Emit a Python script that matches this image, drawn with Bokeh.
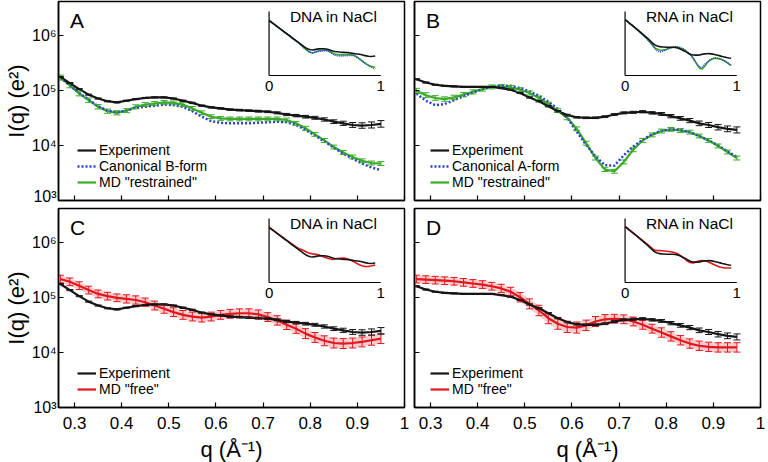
import numpy as np
from bokeh.plotting import figure
from bokeh.models import (ColumnDataSource, Whisker, TeeHead, Legend, LegendItem, Label,
                          FixedTicker, Range1d, LogScale, LinearScale)
from bokeh.layouts import column, row
from bokeh.embed import file_html
from bokeh.resources import INLINE
from bokeh.core.properties import value

FONT = "Liberation Sans"

# ---------------- data (log10 of I(q) in e^2) ----------------
q = [0.27, 0.29, 0.31, 0.33, 0.35, 0.37, 0.39, 0.41, 0.43, 0.45, 0.47, 0.49,
     0.51, 0.53, 0.55, 0.57, 0.59, 0.61, 0.63, 0.65, 0.67, 0.69, 0.71, 0.73,
     0.75, 0.77, 0.79, 0.81, 0.83, 0.85, 0.87, 0.89, 0.91, 0.93, 0.95]

dna_exp = [5.24, 5.13, 5.02, 4.92, 4.85, 4.80, 4.78, 4.81, 4.84, 4.86, 4.87, 4.87,
           4.85, 4.81, 4.77, 4.72, 4.69, 4.67, 4.65, 4.64, 4.63, 4.62, 4.61, 4.59,
           4.56, 4.54, 4.52, 4.50, 4.47, 4.43, 4.40, 4.37, 4.36, 4.37, 4.39]
dna_bform = [5.23, 5.09, 4.95, 4.83, 4.71, 4.63, 4.60, 4.63, 4.68, 4.70, 4.72, 4.74,
             4.73, 4.70, 4.62, 4.52, 4.44, 4.41, 4.40, 4.40, 4.40, 4.41, 4.42, 4.43,
             4.42, 4.37, 4.28, 4.18, 4.07, 3.96, 3.85, 3.76, 3.67, 3.60, 3.55]
dna_restr = [5.23, 5.09, 4.94, 4.82, 4.70, 4.62, 4.59, 4.63, 4.70, 4.74, 4.76, 4.78,
             4.77, 4.74, 4.67, 4.59, 4.52, 4.49, 4.48, 4.48, 4.48, 4.48, 4.48, 4.48,
             4.46, 4.40, 4.31, 4.20, 4.09, 3.97, 3.87, 3.79, 3.72, 3.68, 3.67]
dna_free = [5.33, 5.28, 5.21, 5.13, 5.06, 5.02, 4.99, 4.97, 4.95, 4.91, 4.85, 4.79,
            4.73, 4.68, 4.65, 4.63, 4.65, 4.68, 4.70, 4.71, 4.71, 4.69, 4.64, 4.58,
            4.50, 4.43, 4.34, 4.27, 4.21, 4.17, 4.16, 4.17, 4.19, 4.22, 4.25]

rna_exp = [5.20, 5.14, 5.10, 5.08, 5.07, 5.06, 5.06, 5.06, 5.06, 5.04, 5.01, 4.95,
           4.87, 4.80, 4.71, 4.62, 4.55, 4.51, 4.50, 4.50, 4.52, 4.56, 4.59, 4.60,
           4.61, 4.59, 4.57, 4.53, 4.49, 4.45, 4.40, 4.37, 4.33, 4.30, 4.28]
rna_aform = [4.94, 4.81, 4.73, 4.75, 4.82, 4.89, 4.96, 5.02, 5.06, 5.08, 5.08, 5.04,
             4.98, 4.90, 4.79, 4.66, 4.50, 4.25, 4.01, 3.80, 3.64, 3.63, 3.82, 3.98,
             4.10, 4.20, 4.27, 4.29, 4.28, 4.24, 4.17, 4.09, 4.00, 3.89, 3.79]
rna_restr = [4.99, 4.91, 4.86, 4.84, 4.87, 4.92, 4.97, 5.02, 5.06, 5.07, 5.05, 5.01,
             4.95, 4.86, 4.75, 4.63, 4.50, 4.30, 4.04, 3.77, 3.56, 3.53, 3.70, 3.92,
             4.09, 4.19, 4.26, 4.29, 4.27, 4.24, 4.17, 4.09, 3.99, 3.88, 3.77]
rna_free = [5.33, 5.32, 5.31, 5.30, 5.29, 5.27, 5.25, 5.23, 5.20, 5.16, 5.10, 5.00,
            4.88, 4.76, 4.62, 4.52, 4.46, 4.45, 4.49, 4.56, 4.60, 4.61, 4.60, 4.56,
            4.50, 4.43, 4.36, 4.29, 4.22, 4.16, 4.12, 4.10, 4.09, 4.09, 4.09]

# error-bar half widths (decades)
dna_exp_err = [0.010, 0.010, 0.010, 0.010, 0.010, 0.010, 0.010, 0.010, 0.010, 0.010, 0.010, 0.010,
               0.010, 0.012, 0.012, 0.012, 0.012, 0.012, 0.014, 0.014, 0.014, 0.016, 0.016, 0.018,
               0.020, 0.022, 0.024, 0.026, 0.030, 0.034, 0.038, 0.044, 0.050, 0.055, 0.060]
rna_exp_err = [0.010, 0.010, 0.010, 0.010, 0.010, 0.010, 0.010, 0.010, 0.010, 0.010, 0.010, 0.010,
               0.012, 0.012, 0.012, 0.012, 0.014, 0.014, 0.014, 0.014, 0.016, 0.016, 0.018, 0.018,
               0.020, 0.022, 0.026, 0.030, 0.034, 0.038, 0.042, 0.046, 0.050, 0.052, 0.055]
restr_err = [0.045, 0.045, 0.042, 0.040, 0.040, 0.038, 0.038, 0.036, 0.036, 0.035, 0.035, 0.035,
             0.035, 0.035, 0.035, 0.035, 0.035, 0.035, 0.035, 0.035, 0.035, 0.035, 0.035, 0.035,
             0.035, 0.035, 0.035, 0.035, 0.035, 0.035, 0.035, 0.035, 0.035, 0.035, 0.035]
dna_free_err = [0.070, 0.070, 0.070, 0.070, 0.070, 0.070, 0.070, 0.075, 0.075, 0.075, 0.080, 0.080,
                0.080, 0.080, 0.080, 0.080, 0.080, 0.080, 0.080, 0.080, 0.080, 0.080, 0.080, 0.085,
                0.085, 0.085, 0.090, 0.090, 0.090, 0.090, 0.090, 0.090, 0.090, 0.090, 0.090]
rna_free_err = [0.070, 0.070, 0.070, 0.070, 0.070, 0.070, 0.070, 0.070, 0.070, 0.075, 0.080, 0.085,
                0.090, 0.095, 0.100, 0.100, 0.100, 0.100, 0.095, 0.090, 0.085, 0.080, 0.080, 0.080,
                0.080, 0.080, 0.085, 0.085, 0.085, 0.085, 0.085, 0.085, 0.085, 0.085, 0.085]

# low-q part shown only in the insets
q_low = [0.0, 0.05, 0.10, 0.15, 0.20, 0.25]
dna_exp_low = [6.72, 6.45, 6.17, 5.90, 5.62, 5.35]
dna_model_low = [6.72, 6.45, 6.17, 5.89, 5.61, 5.33]
dna_free_low = [6.74, 6.47, 6.20, 5.93, 5.66, 5.41]
rna_exp_low = [7.00, 6.68, 6.36, 6.03, 5.70, 5.32]
rna_model_low = [7.00, 6.68, 6.35, 6.00, 5.62, 5.16]
rna_free_low = [7.02, 6.70, 6.39, 6.07, 5.75, 5.42]

x_ticks = [0.3, 0.4, 0.5, 0.6, 0.7, 0.8, 0.9, 1.0]
x_tick_labels = ["0.3", "0.4", "0.5", "0.6", "0.7", "0.8", "0.9", "1"]
y_ticks = [1e3, 1e4, 1e5, 1e6]
y_tick_labels = ["10\u00b3", "10\u2074", "10\u2075", "10\u2076"]

BLACK = "#151515"
GREEN = "#3aaa28"
BLUE = "#2b3fd8"
RED = "#e3161d"

# ---------------- layout constants ----------------
FW, FH = 346, 199
X_START, X_END = 0.266, 1.0
Y_START, Y_END = 1e3, 10 ** 6.61
IX0, IX1 = 213 / 350, 326 / 350        # inset q=0 / q=1 as fraction of frame width
IYT, IYB = 10 / 199, 74 / 199          # inset top / bottom as fraction of frame height (from top)
INSET_X_TITLE = 0.58
LEG_PITCH = 16


def panel(letter, series, title, ins_lo, ins_hi, xlab, ylab, bl, br, bt, bb, leg_x):
    p = figure(frame_width=FW, frame_height=FH,
               x_range=Range1d(X_START, X_END), y_range=Range1d(Y_START, Y_END),
               y_axis_type="log", output_backend="svg", toolbar_location=None,
               min_border_left=bl, min_border_right=br, min_border_top=bt, min_border_bottom=bb,
               background_fill_color="white", border_fill_color="white")
    p.grid.visible = False
    p.outline_line_color = "black"
    p.outline_line_width = 1.5

    span = IX1 - IX0
    p.extra_x_ranges = {"ix": Range1d(-IX0 / span, 1 + (1 - IX1) / span)}
    p.extra_x_scales = {"ix": LinearScale()}
    hs = IYB - IYT
    d = ins_hi - ins_lo
    top = ins_hi + IYT / hs * d
    bot = ins_lo - (1 - IYB) / hs * d
    p.extra_y_ranges = {"iy": Range1d(10 ** bot, 10 ** top)}
    p.extra_y_scales = {"iy": LogScale()}

    for ax in (p.xaxis[0], p.yaxis[0]):
        ax.axis_line_color = "black"
        ax.axis_line_width = 1.5
        ax.major_tick_in = 5
        ax.major_tick_out = 0
        ax.major_tick_line_width = 1.2
        ax.minor_tick_line_color = None
        ax.major_label_text_font = FONT
        ax.axis_label_text_font = FONT
        ax.axis_label_text_font_style = "normal"
        ax.axis_label_text_color = "black"
        ax.major_label_text_color = "black"

    xa = p.xaxis[0]
    xa.ticker = FixedTicker(ticks=x_ticks)
    xa.major_label_overrides = dict(zip(x_ticks, x_tick_labels))
    if xlab:
        xa.major_label_text_font_size = "17px"
        xa.major_label_standoff = 9
        xa.axis_label = "q (\u00c5\u207b\u00b9)"
        xa.axis_label_text_font_size = "22px"
        xa.axis_label_standoff = 5
    else:
        xa.major_label_text_font_size = "1px"
        xa.major_label_text_color = None
        xa.major_label_standoff = 0

    ya = p.yaxis[0]
    ya.ticker = FixedTicker(ticks=y_ticks)
    ya.major_label_overrides = dict(zip(y_ticks, y_tick_labels))
    if ylab:
        ya.major_label_text_font_size = "16px"
        ya.major_label_standoff = 2
        ya.axis_label = "I(q) (e\u00b2)"
        ya.axis_label_text_font_size = "22px"
        ya.axis_label_standoff = 0
    else:
        ya.major_label_text_font_size = "1px"
        ya.major_label_text_color = None
        ya.major_label_standoff = 0

    # main curves with error bars
    main = {}
    for s in series:
        v = np.array(s["vals"])
        src = ColumnDataSource(dict(q=q, I=10 ** v))
        if s.get("err") is not None:
            e = np.array(s["err"])
            esrc = ColumnDataSource(dict(q=q, lo=10 ** (v - e), hi=10 ** (v + e)))
            if s.get("band"):
                p.varea(x="q", y1="lo", y2="hi", source=esrc, fill_color=s["color"], fill_alpha=0.22)
            w = Whisker(source=esrc, base="q", upper="hi", lower="lo", dimension="height",
                        line_color=s["color"], line_width=1, level="glyph",
                        upper_head=TeeHead(size=7, line_color=s["color"], line_width=1),
                        lower_head=TeeHead(size=7, line_color=s["color"], line_width=1))
            p.add_layout(w)
        main[s["label"]] = p.line("q", "I", source=src, line_color=s["color"],
                                  line_width=s["width"], line_dash=s["dash"])

    # inset
    p.segment(x0=[0, 0], y0=[10 ** ins_lo, 10 ** ins_lo], x1=[0, 1], y1=[10 ** ins_hi, 10 ** ins_lo],
              x_range_name="ix", y_range_name="iy", line_color="black", line_width=1.2)
    for s in series:
        qi = q_low + q
        vi = np.array(s["low"] + s["vals"])
        p.line(qi, 10 ** vi, x_range_name="ix", y_range_name="iy", line_color=s["color"],
               line_width=1.6, line_dash=s["idash"])
    p.text(x=[INSET_X_TITLE], y=[10 ** ins_hi], text=[title], x_range_name="ix", y_range_name="iy",
           text_align="center", text_baseline="top", y_offset=-4, text_font=value(FONT),
           text_font_size="15.5px", text_color="black")
    p.text(x=[0, 1], y=[10 ** ins_lo, 10 ** ins_lo], text=["0", "1"], x_range_name="ix",
           y_range_name="iy", text_align="center", text_baseline="top", y_offset=5,
           text_font=value(FONT), text_font_size="15px", text_color="black")

    # panel letter
    p.add_layout(Label(x=11.5, y=FH - 7, x_units="screen", y_units="screen", text=letter,
                       text_baseline="top", text_align="left", text_font=FONT,
                       text_font_size="21px", text_color="black"))

    # legend rows (experiment first), one row per legend for an exact row pitch
    ordered = sorted(series, key=lambda t: t["order"])
    n = len(ordered)
    for i, s in enumerate(ordered):
        leg = Legend(items=[LegendItem(label=s["label"], renderers=[main[s["label"]]])],
                     location=(leg_x, 10 + (n - 1 - i) * LEG_PITCH), background_fill_alpha=0,
                     border_line_color=None, label_text_font=FONT, label_text_font_size="14px",
                     label_text_color="black", glyph_width=19, glyph_height=14, label_height=14,
                     label_standoff=3, spacing=0, padding=0, margin=0)
        p.add_layout(leg)
    return p


def exp_series(vals, err, low):
    return dict(label="Experiment", vals=vals, err=err, low=low, color=BLACK, width=2.2,
                dash="solid", idash="solid", order=0)


A = panel("A", [
    dict(label='MD "restrained"', vals=dna_restr, err=restr_err, low=dna_model_low, color=GREEN,
         width=2.2, dash="solid", idash="solid", order=2),
    dict(label="Canonical B-form", vals=dna_bform, err=None, low=dna_model_low, color=BLUE,
         width=2.5, dash="2 2", idash="1 1", order=1),
    exp_series(dna_exp, dna_exp_err, dna_exp_low)],
    "DNA in NaCl", 3.11, 7.31, False, True, 47, 5, 1, 4, 19)

B = panel("B", [
    dict(label='MD "restrained"', vals=rna_restr, err=restr_err, low=rna_model_low, color=GREEN,
         width=2.2, dash="solid", idash="solid", order=2),
    dict(label="Canonical A-form", vals=rna_aform, err=None, low=rna_model_low, color=BLUE,
         width=2.5, dash="2 2", idash="1 1", order=1),
    exp_series(rna_exp, rna_exp_err, rna_exp_low)],
    "RNA in NaCl", 3.07, 7.57, False, False, 5, 5, 1, 4, 16)

C = panel("C", [
    dict(label='MD "free"', vals=dna_free, err=dna_free_err, low=dna_free_low, color=RED,
         width=2.2, dash="solid", idash="solid", order=1, band=True),
    exp_series(dna_exp, dna_exp_err, dna_exp_low)],
    "DNA in NaCl", 3.11, 7.31, True, True, 47, 5, 4, 5, 19)

D = panel("D", [
    dict(label='MD "free"', vals=rna_free, err=rna_free_err, low=rna_free_low, color=RED,
         width=2.2, dash="solid", idash="solid", order=1, band=True),
    exp_series(rna_exp, rna_exp_err, rna_exp_low)],
    "RNA in NaCl", 3.07, 7.57, True, False, 5, 5, 4, 5, 16)

layout = column(row(A, B, spacing=0), row(C, D, spacing=0), spacing=0)
open("out.html", "w").write(file_html(layout, INLINE))
